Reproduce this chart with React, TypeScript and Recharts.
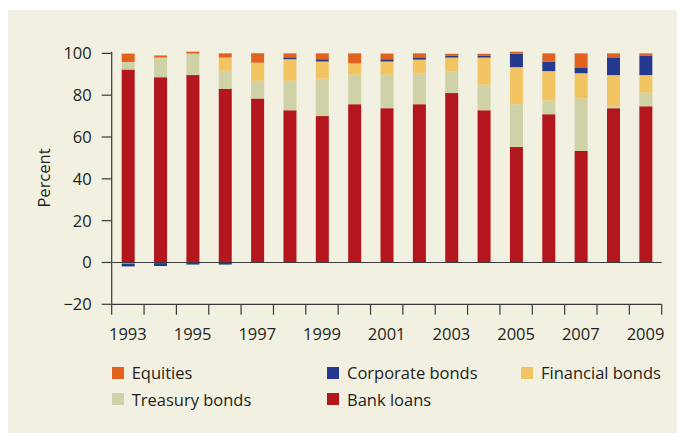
import { BarChart, Bar, XAxis, YAxis, ReferenceLine } from "recharts";

// shares of total financing, percent
const years = ["1993", "1994", "1995", "1996", "1997", "1998", "1999", "2000", "2001", "2002", "2003", "2004", "2005", "2006", "2007", "2008", "2009"];
const bankLoans = [92.3, 88.6, 89.6, 83.1, 78.4, 72.8, 70.0, 75.7, 73.8, 75.7, 81.0, 72.8, 55.2, 70.9, 53.3, 73.8, 74.7];
const treasuryBonds = [3.6, 9.4, 10.3, 8.6, 8.5, 14.1, 17.9, 14.1, 16.0, 14.8, 10.5, 12.2, 20.5, 6.5, 25.1, 0.9, 6.5];
const financialBonds = [-0.5, -0.3, 0, 6.3, 8.6, 10.3, 8.2, 5.4, 6.3, 6.5, 6.5, 13.0, 17.7, 14.1, 12.1, 14.9, 8.4];
const corporateBonds = [-1.4, -1.4, -1.0, -1.0, 0, 0.9, 1.1, 0, 1.1, 1.1, 1.0, 1.0, 6.4, 4.6, 2.8, 8.5, 9.4];
const equities = [4.0, 1.0, 0.9, 2.0, 4.5, 1.9, 2.8, 4.8, 2.7, 1.9, 0.8, 0.8, 1.0, 3.9, 6.7, 1.9, 1.0];
const yTicks = [-20, 0, 20, 40, 60, 80, 100];

const series = [
  { key: "bank", name: "Bank loans", color: "#b3171d" },
  { key: "treasury", name: "Treasury bonds", color: "#cfd2a6" },
  { key: "financial", name: "Financial bonds", color: "#f3c462" },
  { key: "corporate", name: "Corporate bonds", color: "#233a8f" },
  { key: "equities", name: "Equities", color: "#e0621e" },
];

const data = years.map((year, i) => ({
  year,
  bank: bankLoans[i],
  treasury: treasuryBonds[i],
  financial: financialBonds[i],
  corporate: corporateBonds[i],
  equities: equities[i],
}));

const W = 677;
const H = 423;
const YW = 103.7;
const M = { top: 41.7, right: 23.3, bottom: 88.7, left: 0 };
const BAND = (W - YW - M.left - M.right) / years.length;
const AXIS = "#3a3a3a";
const FONT = "'Open Sans', sans-serif";
const TEXT = "#231f20";
const FS = 16.5;

const YearTick = (props: any) => {
  const { x, y, payload, index } = props;
  const half = BAND / 2;
  return (
    <g>
      <line x1={x - half} x2={x - half} y1={y} y2={y + 10.5} stroke={AXIS} strokeWidth={1.2} />
      {index === years.length - 1 && (
        <line x1={x + half} x2={x + half} y1={y} y2={y + 10.5} stroke={AXIS} strokeWidth={1.2} />
      )}
      {index % 2 === 0 && (
        <text x={x} y={y + 36} textAnchor="middle" fill={TEXT} fontSize={FS} fontFamily={FONT}>
          {payload.value}
        </text>
      )}
    </g>
  );
};

const legendItems = [
  { name: "Equities", color: "#e0621e", x: 103.7, y: 362.5 },
  { name: "Corporate bonds", color: "#233a8f", x: 319, y: 362.5 },
  { name: "Financial bonds", color: "#f3c462", x: 513, y: 362.5 },
  { name: "Treasury bonds", color: "#cfd2a6", x: 103.7, y: 389 },
  { name: "Bank loans", color: "#b3171d", x: 319, y: 389 },
];

export default function App() {
  return (
    <div style={{ position: "relative", top: 2, width: W, height: H + 2, background: "#f2f0e0" }}>
      <BarChart width={W} height={H} data={data} margin={M} stackOffset="sign" barSize={13}>
        <XAxis
          dataKey="year"
          interval={0}
          tickLine={false}
          tickSize={0}
          tickMargin={0}
          axisLine={{ stroke: AXIS, strokeWidth: 1.2 }}
          tick={<YearTick />}
          height={40}
        />
        <YAxis
          domain={[-20, 100]}
          ticks={yTicks}
          width={YW}
          tickSize={10}
          tickMargin={10}
          axisLine={{ stroke: AXIS, strokeWidth: 1.2 }}
          tickLine={{ stroke: AXIS, strokeWidth: 1.2 }}
          tick={{ fill: TEXT, fontSize: FS, fontFamily: FONT }}
          tickFormatter={(v: number) => String(v).replace("-", "\u2212")}
          label={(p: any) => {
            const vb = p.viewBox;
            const cx = vb.x + 35.3;
            const cy = vb.y + vb.height / 2;
            return (
              <text x={cx} y={cy} transform={`rotate(-90 ${cx} ${cy})`} textAnchor="middle" dominantBaseline="central" fill={TEXT} fontSize={FS} fontFamily={FONT}>
                Percent
              </text>
            );
          }}
        />
        {series.map((s) => (
          <Bar key={s.key} dataKey={s.key} name={s.name} stackId="a" fill={s.color} isAnimationActive={false} />
        ))}
        <ReferenceLine y={0} stroke={AXIS} strokeWidth={1.2} />
      </BarChart>
      {legendItems.map((it) => (
        <div
          key={it.name}
          style={{
            position: "absolute",
            left: it.x,
            top: it.y - 12,
            height: 24,
            display: "flex",
            alignItems: "center",
            fontFamily: FONT,
            fontSize: FS,
            color: TEXT,
            whiteSpace: "nowrap",
          }}
        >
          <span style={{ width: 12, height: 12, background: it.color, marginRight: 8, display: "inline-block" }} />
          {it.name}
        </div>
      ))}
    </div>
  );
}
